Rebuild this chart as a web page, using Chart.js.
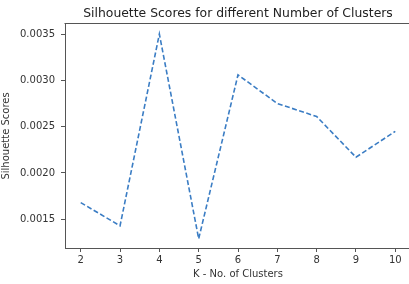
<!DOCTYPE html>
<html>
<head>
<meta charset="utf-8">
<script src="https://cdn.jsdelivr.net/npm/chart.js@4"></script>
<style>
  html, body { margin: 0; padding: 0; background: #fff; overflow: hidden; }
  #wrap { width: 409px; height: 284px; overflow: hidden; position: relative; }
  canvas { display: block; }
</style>
</head>
<body>
<div id="wrap"><canvas id="chart" width="420" height="284"></canvas></div>
<script>
// values
const clusters = [2, 3, 4, 5, 6, 7, 8, 9, 10];
const scores = [0.00168, 0.00143, 0.00350, 0.00129, 0.00306, 0.00275, 0.00261, 0.00217, 0.00245];
const xTicks = [2, 3, 4, 5, 6, 7, 8, 9, 10];
const yTicks = [0.0015, 0.0020, 0.0025, 0.0030, 0.0035];

const FONT = 'DejaVu Sans';
const AXIS = '#555';
const TEXT = '#333';

// top spine only; left and bottom come from the axis borders
const frame = {
  id: 'frame',
  afterDraw(chart) {
    const a = chart.chartArea;
    const ctx = chart.ctx;
    ctx.save();
    ctx.strokeStyle = AXIS;
    ctx.lineWidth = 1;
    ctx.beginPath();
    ctx.moveTo(Math.round(a.left) - 0.5, Math.round(a.top) - 0.5);
    ctx.lineTo(a.right + 2, Math.round(a.top) - 0.5);
    ctx.stroke();
    ctx.restore();
  }
};

const ctx = document.getElementById('chart').getContext('2d');
const chart = new Chart(ctx, {
  type: 'line',
  data: {
    datasets: [{
      data: clusters.map((k, i) => ({ x: k, y: scores[i] })),
      borderColor: '#3b7dc4',
      borderWidth: 1.6,
      borderDash: [5, 2.5],
      pointRadius: 0,
      tension: 0,
      fill: false
    }]
  },
  options: {
    responsive: false,
    animation: false,
    layout: { padding: { left: 0, top: 0, bottom: 0, right: 9 } },
    plugins: {
      legend: { display: false },
      tooltip: { enabled: false },
      title: {
        display: true,
        text: 'Silhouette Scores for different Number of Clusters',
        fullSize: false,
        color: '#222',
        font: { family: FONT, size: 12.4, weight: 'normal' },
        padding: { top: 6, bottom: 3 }
      }
    },
    scales: {
      x: {
        type: 'linear',
        min: 1.6,
        max: 10.4,
        afterBuildTicks: s => { s.ticks = xTicks.map(v => ({ value: v })); },
        afterFit: s => { s.height = 36; },
        border: { display: true, color: AXIS, width: 1 },
        grid: { drawOnChartArea: false, drawTicks: true, tickLength: 4, color: AXIS },
        ticks: {
          color: TEXT, padding: 2, maxRotation: 0,
          font: { family: FONT, size: 10 },
          callback: v => String(v)
        },
        title: {
          display: true, text: 'K - No. of Clusters', color: TEXT,
          font: { family: FONT, size: 10 },
          padding: { top: 0, bottom: 4 }
        }
      },
      y: {
        min: 0.00119,
        max: 0.00361,
        afterBuildTicks: s => { s.ticks = yTicks.map(v => ({ value: v })); },
        afterFit: s => { s.width = 65; },
        border: { display: true, color: AXIS, width: 1 },
        grid: { drawOnChartArea: false, drawTicks: true, tickLength: 4, color: AXIS },
        ticks: {
          color: TEXT, padding: 6,
          font: { family: FONT, size: 10 },
          callback: v => v.toFixed(4)
        },
        title: {
          display: true, text: 'Silhouette Scores', color: TEXT,
          font: { family: FONT, size: 10 },
          padding: { top: 0, bottom: 0 }
        }
      }
    }
  },
  plugins: [frame]
});
</script>
</body>
</html>
